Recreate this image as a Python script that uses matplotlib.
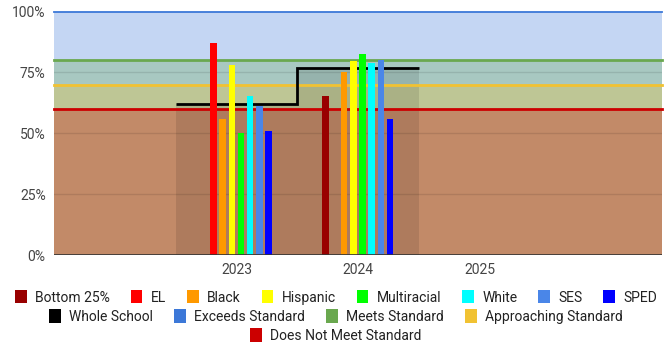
import numpy as np
import matplotlib
matplotlib.use('Agg')
import matplotlib.pyplot as plt
from matplotlib.patches import Patch
from matplotlib.ticker import FuncFormatter

plt.rcParams['font.family'] = ['Roboto', 'DejaVu Sans']

years = ['2023', '2024', '2025']

groups = ['Bottom 25%', 'EL', 'Black', 'Hispanic', 'Multiracial', 'White', 'SES', 'SPED']
group_colors = ['#990000', '#ff0000', '#ff9900', '#ffff00', '#00ff00', '#00ffff', '#4a86e8', '#0000ff']

# percent proficient per group and year (nan = no data)
bottom25 = [np.nan, 65.5, np.nan]
el = [87, np.nan, np.nan]
black = [56, 75, np.nan]
hispanic = [78, 79.5, np.nan]
multiracial = [50, 82.5, np.nan]
white = [65.5, 79, np.nan]
ses = [61, 80, np.nan]
sped = [51, 56, np.nan]
group_values = [bottom25, el, black, hispanic, multiracial, white, ses, sped]

whole_school = [62, 77]

standards = ['Exceeds Standard', 'Meets Standard', 'Approaching Standard', 'Does Not Meet Standard']
standard_levels = [100, 80, 70, 60]
standard_colors = ['#3c78d8', '#6aa84f', '#f1c232', '#cc0000']

fig = plt.figure(figsize=(6.72, 3.49), dpi=100)
ax = fig.add_axes([0.0804, 0.2693, 0.9046, 0.6977])

x = np.arange(len(years))
ax.set_xlim(-1.5, len(years) + 0.5)
ax.set_ylim(0, 100)

# standard bands, each filled from 0 up to its level
for level, c in zip(standard_levels, standard_colors):
    ax.axhspan(0, level, color=c, alpha=0.3, lw=0, zorder=0)

for g in [25, 50, 75]:
    ax.axhline(g, color='black', alpha=0.1, lw=1, zorder=1)

# whole school stepped area
edges = np.append(x[:len(whole_school)] - 0.5, x[len(whole_school) - 1] + 0.5)
ax.stairs(whole_school, edges, fill=True, baseline=0, color='black', alpha=0.1, lw=0, zorder=2)

for level, c in zip(standard_levels, standard_colors):
    lw = 1.3 if level == 100 else 2
    ax.axhline(level, color=c, lw=lw, zorder=3, clip_on=False)

ax.stairs(whole_school, edges, baseline=None, color='black', lw=2, zorder=4)

step = 0.0757
bw = 0.054
for i, (vals, c) in enumerate(zip(group_values, group_colors)):
    ax.bar(x + (i - (len(groups) - 1) / 2) * step, vals, width=bw, color=c, zorder=5)

ax.axhline(0, color='#333333', lw=1.2, zorder=6)

for s in ax.spines.values():
    s.set_visible(False)
ax.set_xticks(x)
ax.set_xticklabels(years)
ax.set_yticks([0, 25, 50, 75, 100])
ax.yaxis.set_major_formatter(FuncFormatter(lambda v, p: f'{v:.0f}%'))
ax.tick_params(axis='both', length=0, labelsize=10, colors='#444444')
ax.tick_params(axis='x', pad=6)
ax.tick_params(axis='y', pad=6)

# legend in three centered rows
rows = [
    [(g, c) for g, c in zip(groups, group_colors)],
    [('Whole School', '#000000')] + [(s, c) for s, c in zip(standards[:3], standard_colors[:3])],
    [(standards[3], standard_colors[3])],
]
row_y = [0.148, 0.093, 0.039]
for items, yy in zip(rows, row_y):
    handles = [Patch(facecolor=c, edgecolor='none') for _, c in items]
    labels = [t for t, _ in items]
    leg = fig.legend(handles, labels, loc='center', bbox_to_anchor=(0.5, yy), ncol=len(items),
                     frameon=False, fontsize=10, handlelength=0.85, handleheight=1.1,
                     handletextpad=0.6, columnspacing=1.5, borderpad=0, borderaxespad=0)
    for t in leg.get_texts():
        t.set_color('#222222')

fig.savefig('out.png', dpi=100)
